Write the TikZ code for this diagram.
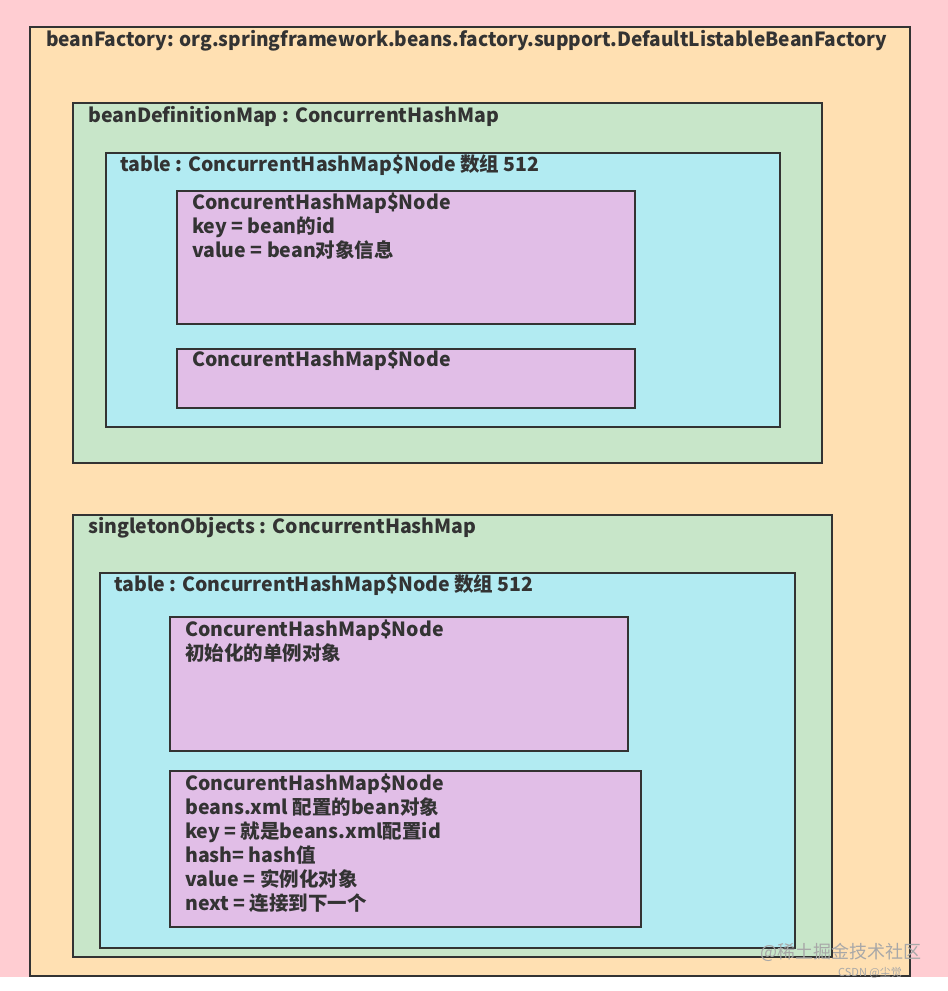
\documentclass[tikz,border=0pt]{standalone}
\usepackage{fontspec}
\setmainfont{Noto Sans CJK SC}
\definecolor{bgpink}{HTML}{FFCDD2}
\definecolor{orangebox}{HTML}{FFE0B2}
\definecolor{greenbox}{HTML}{C8E6C9}
\definecolor{cyanbox}{HTML}{B2EBF2}
\definecolor{purplebox}{HTML}{E1BEE7}
\definecolor{edgecol}{HTML}{333333}
\definecolor{txtcol}{HTML}{333333}
\definecolor{wmcol}{HTML}{A8A8A8}
\begin{document}
\begin{tikzpicture}[x=1pt,y=1pt,
  box/.style={draw=edgecol, line width=2.5pt},
  lbl/.style={anchor=base west, inner sep=0pt, text=txtcol, font=\fontsize{19.5}{22}\selectfont\bfseries},
  wm/.style={anchor=base west, inner sep=0pt, text=wmcol}]
\useasboundingbox (0,0) rectangle (948,991);
\fill[white] (0,0) rectangle (948,991);
\fill[bgpink] (0,14) rectangle (948,991);
% outer
\filldraw[box, fill=orangebox] (30,15) rectangle (910,964);
\node[lbl] (tFactory) at (46,944) {\scalebox{0.98}[1]{beanFactory: org.springframework.beans.factory.support.DefaultListableBeanFactory}};
% bean definition map
\filldraw[box, fill=greenbox] (73,528) rectangle (822,888);
\node[lbl] (tBDM) at (88,868) {beanDefinitionMap : ConcurrentHashMap};
\filldraw[box, fill=cyanbox] (106,564) rectangle (780,838);
\node[lbl] (tTable1) at (120,819) {table : ConcurrentHashMap\$Node 数组 512};
\filldraw[box, fill=purplebox] (177,667) rectangle (635,800);
\node[lbl] (n1a) at (192,781) {ConcurentHashMap\$Node};
\node[lbl] (n1b) at (192,757) {key = bean的id};
\node[lbl] (n1c) at (192,733) {value = bean对象信息};
\filldraw[box, fill=purplebox] (177,583) rectangle (635,642);
\node[lbl] (n2a) at (192,624) {ConcurentHashMap\$Node};
% singleton objects
\filldraw[box, fill=greenbox] (73,34) rectangle (832,476);
\node[lbl] (tSO) at (88,457) {singletonObjects : ConcurrentHashMap};
\filldraw[box, fill=cyanbox] (100,43) rectangle (795,418);
\node[lbl] (tTable2) at (114,399) {table : ConcurrentHashMap\$Node 数组 512};
\filldraw[box, fill=purplebox] (170,240) rectangle (628,374);
\node[lbl] (n3a) at (185,354) {ConcurentHashMap\$Node};
\node[lbl] (n3b) at (185,330) {初始化的单例对象};
\filldraw[box, fill=purplebox] (170,64) rectangle (641,220);
\node[lbl] (n4a) at (185,200) {ConcurentHashMap\$Node};
\node[lbl] (n4b) at (185,176) {beans.xml 配置的bean对象};
\node[lbl] (n4c) at (185,152) {key = 就是beans.xml配置id};
\node[lbl] (n4d) at (185,128) {hash= hash值};
\node[lbl] (n4e) at (185,104) {value = 实例化对象};
\node[lbl] (n4f) at (185,80) {next = 连接到下一个};
% watermarks
\node[wm, font=\fontsize{18}{20}\selectfont] (wm1) at (760,32) {@稀土掘金技术社区};
\node[wm, font=\fontsize{11}{12}\selectfont] (wm2) at (838,14) {CSDN @尘觉};
\end{tikzpicture}
\end{document}
